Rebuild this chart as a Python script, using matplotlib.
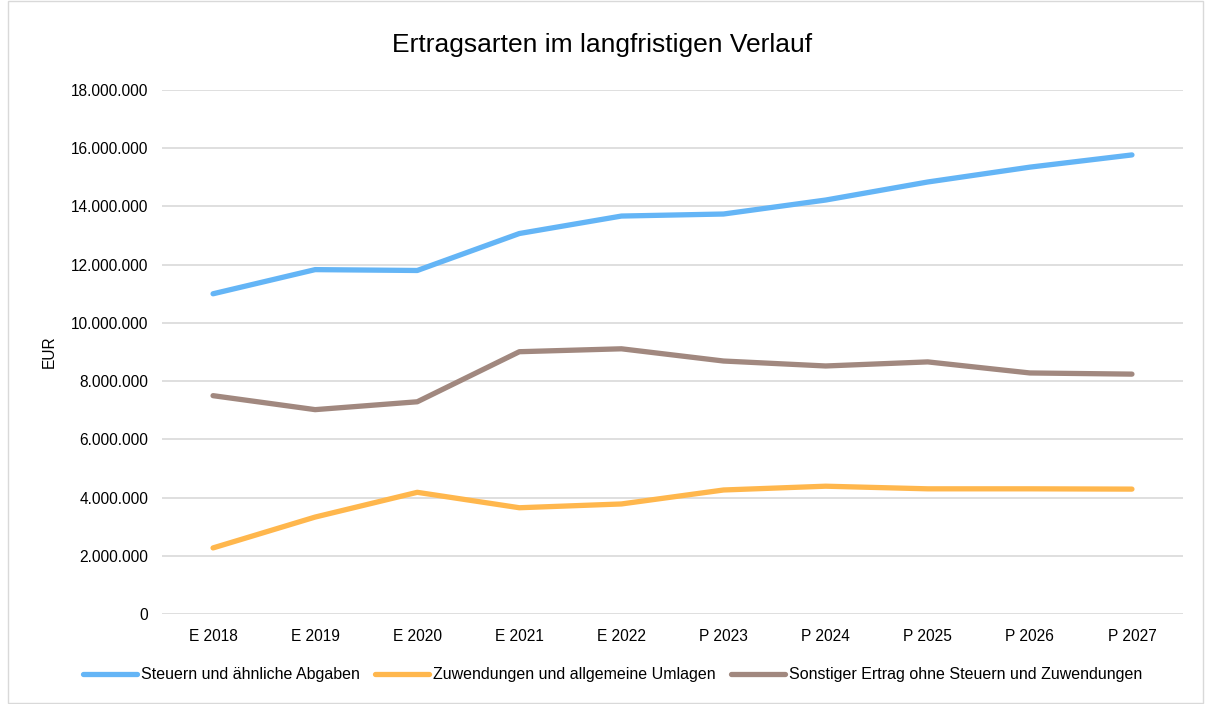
import matplotlib
matplotlib.use("Agg")
import matplotlib.pyplot as plt
from matplotlib.ticker import FuncFormatter, MultipleLocator

plt.rcParams['font.family'] = ['Liberation Sans', 'DejaVu Sans']

categories = ["E 2018", "E 2019", "E 2020", "E 2021", "E 2022",
              "P 2023", "P 2024", "P 2025", "P 2026", "P 2027"]
steuern = [11000000, 11830000, 11800000, 13070000, 13670000,
           13740000, 14220000, 14840000, 15350000, 15770000]
zuwendungen = [2270000, 3330000, 4180000, 3650000, 3780000,
               4260000, 4390000, 4300000, 4300000, 4290000]
sonstiger = [7500000, 7020000, 7290000, 9010000, 9110000,
             8690000, 8520000, 8660000, 8280000, 8240000]
series_names = ["Steuern und ähnliche Abgaben",
                "Zuwendungen und allgemeine Umlagen",
                "Sonstiger Ertrag ohne Steuern und Zuwendungen"]
colors = ["#64B5F6", "#FFB74D", "#A1887F"]

fs = 11.2
fig = plt.figure(figsize=(12.05, 7.04), dpi=100)
ax = fig.add_axes([162/1205, (704-614)/704, (1183-162)/1205, (614-90)/704])

x = list(range(len(categories)))
for vals, name, c in zip([steuern, zuwendungen, sonstiger], series_names, colors):
    ax.plot(x, vals, color=c, lw=3.8, label=name, solid_capstyle='round', solid_joinstyle='round', zorder=3)

ax.set_xlim(-0.5, len(categories) - 0.5)
ax.set_ylim(0, 18000000)
ax.yaxis.set_major_locator(MultipleLocator(2000000))
ax.yaxis.set_major_formatter(FuncFormatter(lambda v, p: f"{int(v):,}".replace(",", ".")))
ax.set_xticks(x)
ax.set_xticklabels(categories)
ax.grid(axis='y', color='#D9D9D9', lw=1.2, zorder=0)
for s in ax.spines.values():
    s.set_visible(False)
ax.tick_params(axis='both', length=0, labelsize=fs, colors='#000000')
ax.tick_params(axis='x', pad=11)
ax.tick_params(axis='y', pad=10)
ax.set_ylabel("EUR", fontsize=fs, labelpad=10)

fig.text(0.5, 1 - 45/704, "Ertragsarten im langfristigen Verlauf", ha='center', va='center', fontsize=19)

fig.legend(loc='center', bbox_to_anchor=(612.5/1205, 1 - 675/704), ncol=3, frameon=False,
           fontsize=11.5, handlelength=3.4, handletextpad=0.25, columnspacing=0.95)

border = plt.Rectangle((8/1205, 0.002), (1203-8)/1205, 0.996, transform=fig.transFigure,
                       fill=False, edgecolor='#D9D9D9', lw=1)
fig.patches.append(border)

fig.savefig("out.png", dpi=100)
